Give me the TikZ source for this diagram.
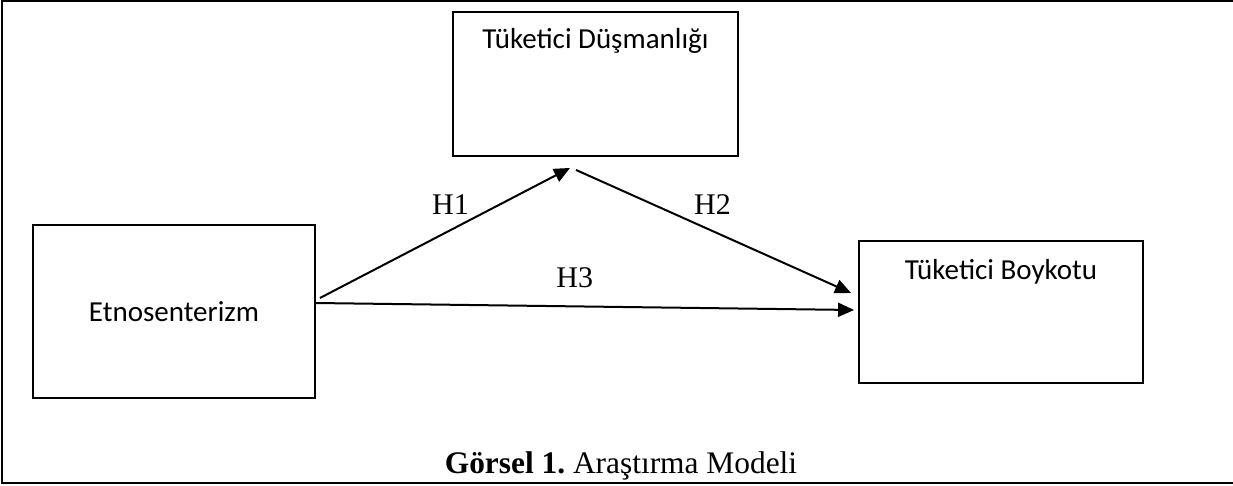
\documentclass[tikz,border=0pt]{standalone}
\usepackage{fontspec}
\setmainfont{Liberation Serif}
\newfontfamily\boxfont{Carlito}
\usetikzlibrary{arrows.meta,positioning,calc}

\begin{document}
\begin{tikzpicture}[x=1pt,y=-1pt,
    var/.style={draw, line width=1.9pt, rectangle, inner sep=0pt},
    boxtext/.style={font=\boxfont\fontsize{29}{34}\selectfont},
    hyp/.style={font=\fontsize{30}{36}\selectfont},
    path/.style={line width=2pt, -{Triangle[length=16pt,width=14pt]}}
]
\useasboundingbox (0,0) rectangle (1233,485);
\draw[line width=1.9pt] (2,1) rectangle (1245,483);

% variables
\node[var, minimum width=285pt, minimum height=144pt] (dusman) at (595.5,84) {};
\node[boxtext, anchor=base] (dusmantxt) at ($(dusman.north)+(0,37)$) {Tüketici Düşmanlığı};

\node[var, boxtext, minimum width=282pt, minimum height=173pt] (etno) at (174,311.5) {Etnosenterizm};

\node[var, minimum width=284pt, minimum height=142pt] (boykot) at (1001,312) {};
\node[boxtext, anchor=base] (boykottxt) at ($(boykot.north)+(0,39)$) {Tüketici Boykotu};

% hypotheses
\draw[path] ($(etno.east)+(4,-13.5)$) -- node[hyp, pos=0.522, yshift=25.6pt] {H1} ($(dusman.south)+(-25.5,11)$);
\draw[path] ($(dusman.south)+(-19.5,13)$) -- node[hyp, pos=0.496, yshift=26.5pt] {H2} ($(boykot.west)+(-7,-19)$);
\draw[path] ($(etno.east)+(0,-8.5)$) -- node[hyp, pos=0.481, yshift=28.4pt] {H3} ($(boykot.west)+(-4,-2)$);

\node[font=\fontsize{31.4}{36}\selectfont, anchor=base] (caption) at (621,473) {\textbf{Görsel 1.}\ Araştırma Modeli};
\end{tikzpicture}
\end{document}
